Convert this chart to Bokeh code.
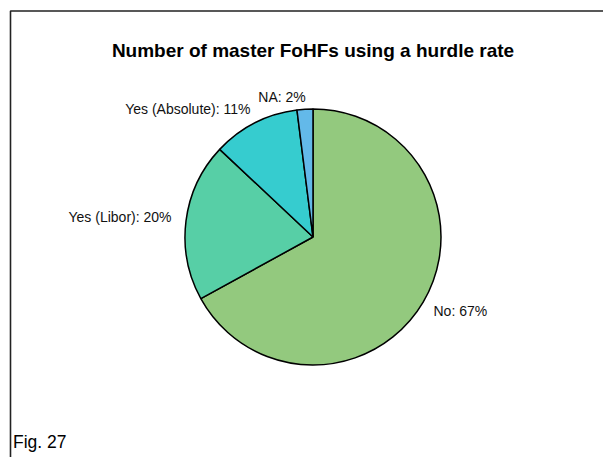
import math
from bokeh.plotting import figure
from bokeh.models import Range1d, ColumnDataSource
from bokeh.core.properties import value
from bokeh.embed import file_html
from bokeh.resources import INLINE

# ---- data ----
categories = ["No", "Yes (Libor)", "Yes (Absolute)", "NA"]
shares = [67, 20, 11, 2]
colors = ["#93C97E", "#57CFA6", "#36CCCF", "#63B9E9"]
title_text = "Number of master FoHFs using a hurdle rate"
footer_text = "Fig. 27"

W, H = 603, 457

def sy(py):
    return H - py

p = figure(width=W, height=H, x_range=Range1d(0, W), y_range=Range1d(0, H),
           output_backend="svg", toolbar_location=None,
           x_axis_type=None, y_axis_type=None, min_border=0,
           background_fill_color="white", border_fill_color="white")
p.outline_line_color = None
p.grid.visible = False

# frame border (extends past right and bottom edge)
p.line(x=[10, 10, W + 50], y=[sy(H + 50), sy(10.5), sy(10.5)],
       line_color="#222222", line_width=1.6)

# pie
cx, cy, r = 312.5, sy(236.5), 128
total = float(sum(shares))
starts, ends = [], []
cum = 0.0
for s in shares:
    c0 = cum / total
    cum += s
    c1 = cum / total
    starts.append(math.pi / 2 - 2 * math.pi * c1)
    ends.append(math.pi / 2 - 2 * math.pi * c0)

src = ColumnDataSource(dict(start=starts, end=ends, color=colors,
                            x=[cx] * len(shares), y=[cy] * len(shares)))
p.wedge(x="x", y="y", radius=r, radius_units="screen",
        start_angle="start", end_angle="end", fill_color="color",
        line_color="black", line_width=1.5, source=src)

# labels (layout anchors in screen px)
label_layout = [(433, 310, "left"), (171, 216, "right"),
                (250, 108, "right"), (281.5, 96, "center")]
for cat, s, (lx, ly, al) in zip(categories, shares, label_layout):
    p.text(x=[lx], y=[sy(ly)], text=[f"{cat}: {s}%"],
           text_font=value("Liberation Sans"), text_font_size="14px",
           text_color="#111111", text_align=al, text_baseline="middle")

# title
p.text(x=[312.5], y=[sy(49.5)], text=[title_text],
       text_font=value("Liberation Sans"), text_font_size="19px",
       text_font_style="bold", text_color="black",
       text_align="center", text_baseline="middle")

# footer
p.text(x=[12.5], y=[sy(441)], text=[footer_text],
       text_font=value("Liberation Sans"), text_font_size="17.5px",
       text_color="black", text_align="left", text_baseline="middle")

open("out.html", "w").write(file_html(p, INLINE))
